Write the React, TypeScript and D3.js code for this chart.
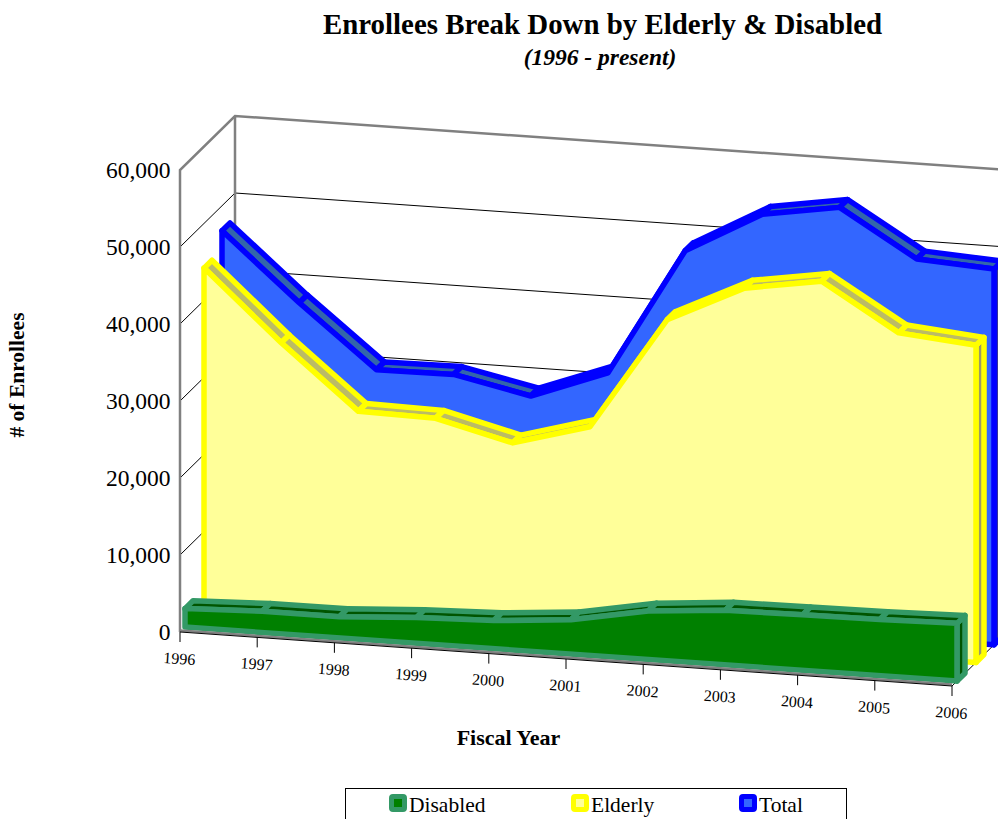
import React from "react";
import * as d3 from "d3";

const years = [1996, 1997, 1998, 1999, 2000, 2001, 2002, 2003, 2004, 2005, 2006];
const disabled = [2400, 2750, 2750, 3350, 3650, 4450, 6300, 7100, 7200, 7300, 7500];
const elderly = [44200, 35200, 27000, 26800, 24300, 27100, 41700, 46500, 48100, 42100, 41200];
const total = [46750, 38100, 30100, 30200, 28100, 31800, 48360, 53800, 55400, 49400, 48800];
const valueTicks = [0, 10000, 20000, 30000, 40000, 50000, 60000];
const legendNames = ["Disabled", "Elderly", "Total"];

const W = 998;
const H = 819;

// Oblique projection of (year, value, depth) on to the page
const xs = d3.scaleLinear().domain([1996, 2006]).range([180, 952]);
const xDrift = d3.scaleLinear().domain([1996, 2006]).range([632, 686]);
const ys = d3.scaleLinear().domain([0, 60000]).range([0, 462]);
const depthX = d3.scaleLinear().domain([0, 1]).range([0, 55]);
const depthY = d3.scaleLinear().domain([0, 1]).range([0, 54]);

type P = [number, number];
const pt = (year: number, value: number, depth: number): P => [
  xs(year) + depthX(depth),
  xDrift(year) - ys(value) - depthY(depth),
];
const path = d3.line<P>();
const closed = (pts: P[]) => (path(pts) as string) + "Z";

type Band = {
  name: string;
  values: number[];
  d0: number;
  d1: number;
  fill: string;
  edge: string;
  top: string;
  side: string;
  weight: number;
};
const bands: Band[] = [
  { name: "Total", values: total, d0: 42 / 55, d1: 50 / 55, fill: "#3366ff", edge: "#0000ff", top: "#3366aa", side: "#333399", weight: 5.5 },
  { name: "Elderly", values: elderly, d0: 24 / 55, d1: 32 / 55, fill: "#ffff99", edge: "#ffff00", top: "#bbbb66", side: "#999966", weight: 5.5 },
  { name: "Disabled", values: disabled, d0: 5 / 55, d1: 13 / 55, fill: "#008000", edge: "#339966", top: "#005500", side: "#005500", weight: 5.5 },
];
const swatches = [
  { fill: "#008000", edge: "#339966" },
  { fill: "#ffff99", edge: "#ffff00" },
  { fill: "#3366ff", edge: "#0000ff" },
];

const BandShape = ({ b }: { b: Band }) => {
  const first = years[0];
  const last = years[years.length - 1];
  const lastV = b.values[b.values.length - 1];
  const front: P[] = [
    pt(first, 0, b.d0),
    ...years.map((y, i) => pt(y, b.values[i], b.d0)),
    pt(last, 0, b.d0),
  ];
  const side: P[] = [pt(last, lastV, b.d0), pt(last, lastV, b.d1), pt(last, 0, b.d1), pt(last, 0, b.d0)];
  const common = { stroke: b.edge, strokeWidth: b.weight, strokeLinejoin: "round" as const };
  return (
    <g>
      <path d={closed(side)} fill={b.side} {...common} />
      {years.slice(0, -1).map((y, i) => (
        <path
          key={y}
          d={closed([
            pt(y, b.values[i], b.d0),
            pt(y, b.values[i], b.d1),
            pt(years[i + 1], b.values[i + 1], b.d1),
            pt(years[i + 1], b.values[i + 1], b.d0),
          ])}
          fill={b.top}
          {...common}
        />
      ))}
      <path d={closed(front)} fill={b.fill} {...common} />
    </g>
  );
};

const serif = "'Liberation Serif', 'Times New Roman', serif";
const tilt = (Math.atan2(54, 772) * 180) / Math.PI;

export default function App() {
  const y0 = years[0];
  const y1 = years[years.length - 1];
  return (
    <svg
      width={W}
      height={H}
      viewBox={`0 0 ${W} ${H}`}
      style={{ position: "absolute", left: 0, top: 0, display: "block", background: "#fff" }}
      fontFamily={serif}
    >
      <text x={602.5} y={34} textAnchor="middle" fontSize={28.9} fontWeight="bold">
        Enrollees Break Down by Elderly &amp; Disabled
      </text>
      <text x={600} y={65} textAnchor="middle" fontSize={23.5} fontWeight="bold" fontStyle="italic">
        (1996 - present)
      </text>

      {/* walls and grid */}
      {valueTicks.slice(1, -1).map((v) => (
        <path
          key={v}
          d={path([pt(y0, v, 0), pt(y0, v, 1), pt(y1, v, 1)]) as string}
          fill="none"
          stroke="#000"
          strokeWidth={1}
        />
      ))}
      <path
        d={path([pt(y0, 0, 0), pt(y0, 60000, 0), pt(y0, 60000, 1), pt(y1, 60000, 1)]) as string}
        fill="none"
        stroke="#808080"
        strokeWidth={2.5}
      />
      <path d={path([pt(y0, 0, 1), pt(y0, 60000, 1)]) as string} fill="none" stroke="#808080" strokeWidth={2.5} />
      <path d={path([pt(y1, 0, 0), pt(y1, 0, 1)]) as string} fill="none" stroke="#000" strokeWidth={1} />

      {bands.map((b) => (
        <BandShape key={b.name} b={b} />
      ))}

      {/* floor edge and year ticks */}
      <path d={path([pt(y0, 0, 0), pt(y1, 0, 0)]) as string} transform="translate(0,-1.5)" stroke="#808080" strokeWidth={2.5} fill="none" />
      <path d={path([pt(y0, 0, 0), pt(y1, 0, 0)]) as string} stroke="#000" strokeWidth={1} fill="none" />
      {years.map((y) => {
        const [px, py] = pt(y, 0, 0);
        return (
          <g key={y}>
            <line x1={px} y1={py} x2={px} y2={py + 10} stroke="#000" />
            <text
              x={px - 1}
              y={py + 32}
              textAnchor="middle"
              fontSize={16}
              transform={`rotate(${tilt} ${px - 1} ${py + 32})`}
            >
              {y}
            </text>
          </g>
        );
      })}

      {valueTicks.map((v) => {
        const [, py] = pt(y0, v, 0);
        return (
          <text key={v} x={170.5} y={py + 8} textAnchor="end" fontSize={23.5}>
            {d3.format(",")(v)}
          </text>
        );
      })}

      <text x={508.5} y={745} textAnchor="middle" fontSize={22} fontWeight="bold">
        Fiscal Year
      </text>
      <text
        transform="translate(24,375) rotate(-90)"
        textAnchor="middle"
        fontSize={21.5}
        fontWeight="bold"
      >
        # of Enrollees
      </text>

      {/* legend */}
      <rect x={345.5} y={788.5} width={501} height={40} fill="#fff" stroke="#000" />
      {legendNames.map((name, i) => {
        const lx = [389, 571, 739][i];
        return (
          <g key={name}>
            <rect x={lx + 2.5} y={796.5} width={13} height={13} rx={1.5} fill={swatches[i].fill} stroke={swatches[i].edge} strokeWidth={5} />
            <text x={lx + 20} y={812} fontSize={21.5}>
              {name}
            </text>
          </g>
        );
      })}
    </svg>
  );
}
